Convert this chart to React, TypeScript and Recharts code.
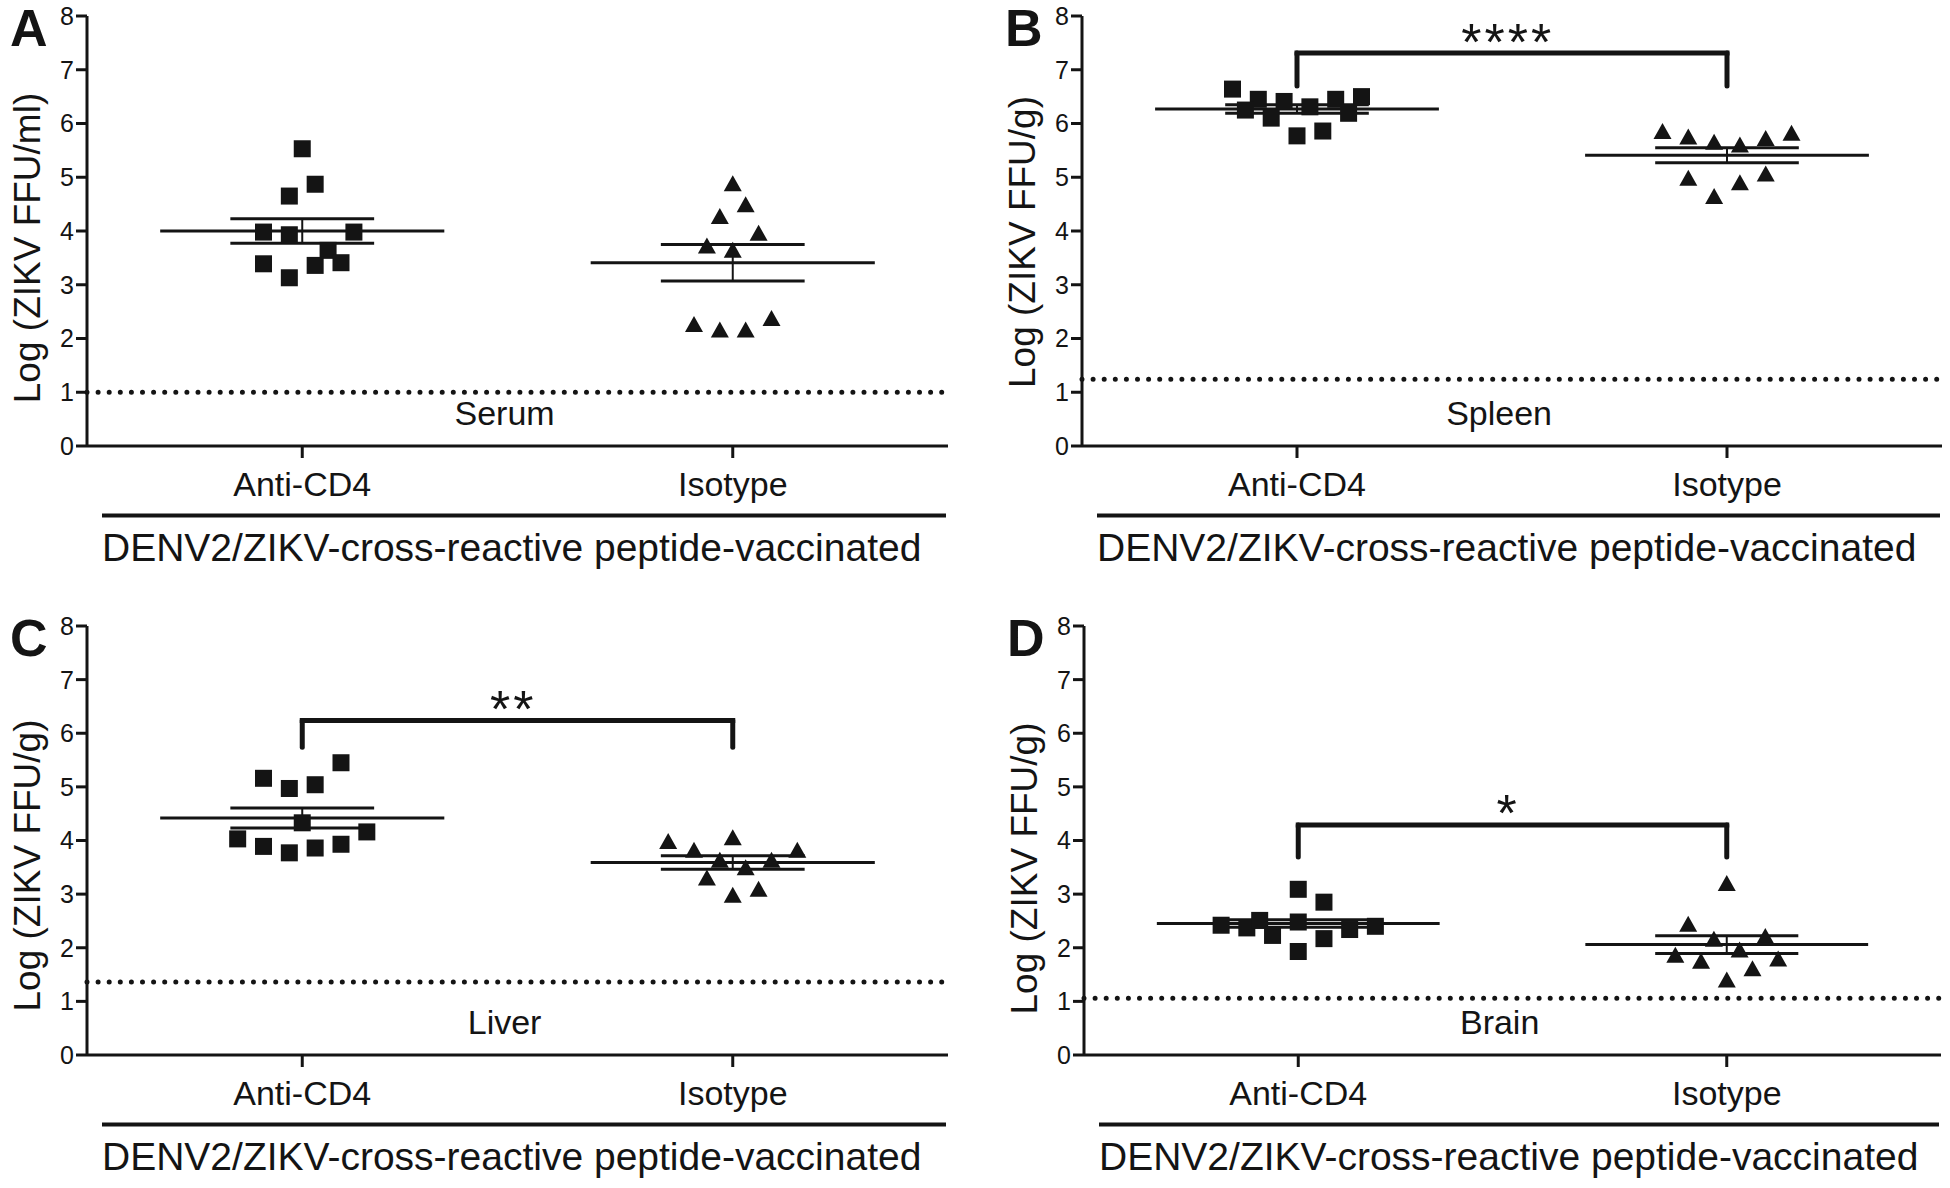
import React from 'react';
import { ScatterChart, Scatter, XAxis, YAxis, ReferenceLine, ReferenceDot, Label } from 'recharts';

const FONT = '"Liberation Sans", Arial, Helvetica, sans-serif';
const INK = '#141414';

const groups = ['Anti-CD4', 'Isotype'];
const groupPos = [1, 2];
const yTicks = [0, 1, 2, 3, 4, 5, 6, 7, 8];
const caption = 'DENV2/ZIKV-cross-reactive peptide-vaccinated';

// A - serum
const serumAnti = [5.53, 4.87, 4.65, 3.98, 3.93, 3.98, 3.64, 3.39, 3.36, 3.41, 3.13];
const serumAntiJitter = [0, 0.03, -0.03, -0.09, -0.03, 0.12, 0.06, -0.09, 0.03, 0.09, -0.03];
const serumIso = [4.88, 4.49, 4.27, 3.96, 3.72, 3.64, 2.26, 2.16, 2.16, 2.37];
const serumIsoJitter = [0, 0.03, -0.03, 0.06, -0.06, 0, -0.09, -0.03, 0.03, 0.09];
const serumMean = [4.0, 3.41];
const serumSem = [0.23, 0.34];

// B - spleen
const spleenAnti = [6.64, 6.45, 6.25, 6.1, 6.41, 6.31, 5.77, 5.86, 6.45, 6.19, 6.5];
const spleenAntiJitter = [-0.15, -0.09, -0.12, -0.06, -0.03, 0.03, 0, 0.06, 0.09, 0.12, 0.15];
const spleenIso = [5.85, 5.75, 5.65, 5.6, 5.72, 5.82, 4.98, 4.9, 5.06, 4.64];
const spleenIsoJitter = [-0.15, -0.09, -0.03, 0.03, 0.09, 0.15, -0.09, 0.03, 0.09, -0.03];
const spleenMean = [6.27, 5.41];
const spleenSem = [0.08, 0.14];

// C - liver
const liverAnti = [5.45, 5.16, 4.97, 5.04, 4.33, 4.16, 4.03, 3.89, 3.77, 3.86, 3.93];
const liverAntiJitter = [0.09, -0.09, -0.03, 0.03, 0, 0.15, -0.15, -0.09, -0.03, 0.03, 0.09];
const liverIso = [3.98, 4.05, 3.82, 3.82, 3.63, 3.63, 3.49, 3.3, 3.09, 2.98];
const liverIsoJitter = [-0.15, 0, -0.09, 0.15, -0.03, 0.09, 0.03, -0.06, 0.06, 0];
const liverMean = [4.42, 3.59];
const liverSem = [0.185, 0.125];

// D - brain
const brainAnti = [3.09, 2.85, 2.42, 2.37, 2.51, 2.23, 2.48, 2.17, 2.34, 2.4, 1.93];
const brainAntiJitter = [0, 0.06, -0.18, -0.12, -0.09, -0.06, 0, 0.06, 0.12, 0.18, 0];
const brainIso = [3.2, 2.44, 2.21, 2.16, 1.96, 1.86, 1.75, 1.79, 1.61, 1.4];
const brainIsoJitter = [0, -0.09, 0.09, -0.03, 0.03, -0.12, -0.06, 0.12, 0.06, 0];
const brainMean = [2.45, 2.06];
const brainSem = [0.07, 0.165];

// detection limits and significance brackets [top, drop, stars y]
const lods = [1.0, 1.24, 1.36, 1.06];
const brackets = [null, [7.31, 6.7, 7.74], [6.24, 5.74, 6.68], [4.29, 3.69, 4.74]];
const stars = ['', '****', '**', '*'];

const panels = [
  {
    letter: 'A', tissue: 'Serum', yTitle: 'Log (ZIKV FFU/ml)',
    anti: serumAnti, antiJ: serumAntiJitter, iso: serumIso, isoJ: serumIsoJitter,
    mean: serumMean, sem: serumSem, lod: lods[0], bracket: brackets[0], stars: stars[0],
    left: 0, top: 0, yw: 87, mr: 27, mt: 16, mb: 88, titleShift: 17,
  },
  {
    letter: 'B', tissue: 'Spleen', yTitle: 'Log (ZIKV FFU/g)',
    anti: spleenAnti, antiJ: spleenAntiJitter, iso: spleenIso, isoJ: spleenIsoJitter,
    mean: spleenMean, sem: spleenSem, lod: lods[1], bracket: brackets[1], stars: stars[1],
    left: 975, top: 0, yw: 107, mr: 8, mt: 16, mb: 88, titleShift: 11,
  },
  {
    letter: 'C', tissue: 'Liver', yTitle: 'Log (ZIKV FFU/g)',
    anti: liverAnti, antiJ: liverAntiJitter, iso: liverIso, isoJ: liverIsoJitter,
    mean: liverMean, sem: liverSem, lod: lods[2], bracket: brackets[2], stars: stars[2],
    left: 0, top: 594, yw: 87, mr: 27, mt: 32, mb: 73, titleShift: 25,
  },
  {
    letter: 'D', tissue: 'Brain', yTitle: 'Log (ZIKV FFU/g)',
    anti: brainAnti, antiJ: brainAntiJitter, iso: brainIso, isoJ: brainIsoJitter,
    mean: brainMean, sem: brainSem, lod: lods[3], bracket: brackets[3], stars: stars[3],
    left: 975, top: 594, yw: 109, mr: 9, mt: 32, mb: 73, titleShift: 28,
  },
];

const Square = (p: any) => (
  <rect x={p.cx - 8.5} y={p.cy - 8.5} width={17} height={17} fill={INK} />
);

const Triangle = (p: any) => (
  <polygon
    points={`${p.cx},${p.cy - 8.5} ${p.cx + 9},${p.cy + 7.5} ${p.cx - 9},${p.cy + 7.5}`}
    fill={INK}
  />
);

const CategoryTick = (p: any) => (
  <text x={p.x} y={p.y + 38} textAnchor="middle" fontSize={34} fontFamily={FONT} fill={INK}>
    {groups[p.payload.value - 1]}
  </text>
);

function Panel({ cfg }: { cfg: any }) {
  const antiPts = cfg.anti.map((y: number, i: number) => ({ x: 1 + cfg.antiJ[i], y }));
  const isoPts = cfg.iso.map((y: number, i: number) => ({ x: 2 + cfg.isoJ[i], y }));
  const line = { stroke: INK, strokeWidth: 3 };

  return (
    <div style={{ position: 'absolute', left: cfg.left, top: cfg.top }}>
      <ScatterChart
        width={975}
        height={594}
        margin={{ top: cfg.mt, right: cfg.mr, bottom: cfg.mb, left: 0 }}
      >
        <XAxis
          type="number"
          dataKey="x"
          domain={[0.5, 2.5]}
          ticks={groupPos}
          interval={0}
          height={60}
          tickSize={12}
          tickMargin={0}
          axisLine={line}
          tickLine={line}
          tick={<CategoryTick />}
          allowDataOverflow
        >
          <Label
            content={(lp: any) => {
              const vb = lp.viewBox || {};
              return (
                <g>
                  <line
                    x1={vb.x + 15}
                    x2={vb.x + vb.width - 2}
                    y1={vb.y + 69.5}
                    y2={vb.y + 69.5}
                    stroke={INK}
                    strokeWidth={4}
                  />
                  <text x={vb.x + 15} y={vb.y + 115} fontSize={39} fontFamily={FONT} fill={INK}>
                    {caption}
                  </text>
                </g>
              );
            }}
          />
        </XAxis>
        <YAxis
          type="number"
          dataKey="y"
          domain={[0, 8]}
          ticks={yTicks}
          interval={0}
          width={cfg.yw}
          tickSize={11}
          tickMargin={2}
          axisLine={line}
          tickLine={line}
          tick={{ fill: INK, fontSize: 25, fontFamily: FONT }}
          allowDataOverflow
        >
          <Label
            content={(lp: any) => {
              const vb = lp.viewBox || {};
              const ax = vb.x + vb.width;
              const cy = vb.y + vb.height / 2 + cfg.titleShift;
              return (
                <g>
                  <text
                    x={ax - 77}
                    y={vb.y + 30}
                    fontSize={52}
                    fontWeight="bold"
                    fontFamily={FONT}
                    fill={INK}
                  >
                    {cfg.letter}
                  </text>
                  <text
                    x={ax - 60}
                    y={cy}
                    transform={`rotate(-90 ${ax - 60} ${cy})`}
                    textAnchor="middle"
                    dominantBaseline="central"
                    fontSize={37}
                    fontFamily={FONT}
                    fill={INK}
                  >
                    {cfg.yTitle}
                  </text>
                </g>
              );
            }}
          />
        </YAxis>

        <ReferenceLine
          y={cfg.lod}
          stroke={INK}
          strokeWidth={5}
          strokeDasharray="0 11.1"
          strokeLinecap="round"
        />
        <ReferenceDot
          x={1.47}
          y={0.4}
          r={0}
          shape={(p: any) => (
            <text x={p.cx} y={p.cy} textAnchor="middle" fontSize={34} fontFamily={FONT} fill={INK}>
              {cfg.tissue}
            </text>
          )}
        />

        {groupPos.map((gx, i) => (
          <React.Fragment key={`ms-${i}`}>
            <ReferenceLine
              segment={[{ x: gx - 0.33, y: cfg.mean[i] }, { x: gx + 0.33, y: cfg.mean[i] }]}
              stroke={INK}
              strokeWidth={3}
            />
            <ReferenceLine
              segment={[{ x: gx - 0.167, y: cfg.mean[i] + cfg.sem[i] }, { x: gx + 0.167, y: cfg.mean[i] + cfg.sem[i] }]}
              stroke={INK}
              strokeWidth={3}
            />
            <ReferenceLine
              segment={[{ x: gx - 0.167, y: cfg.mean[i] - cfg.sem[i] }, { x: gx + 0.167, y: cfg.mean[i] - cfg.sem[i] }]}
              stroke={INK}
              strokeWidth={3}
            />
            <ReferenceLine
              segment={[{ x: gx, y: cfg.mean[i] - cfg.sem[i] }, { x: gx, y: cfg.mean[i] + cfg.sem[i] }]}
              stroke={INK}
              strokeWidth={2}
            />
          </React.Fragment>
        ))}

        {cfg.bracket && (
          <>
            <ReferenceLine
              segment={[{ x: 1, y: cfg.bracket[0] }, { x: 2, y: cfg.bracket[0] }]}
              stroke={INK}
              strokeWidth={5}
              strokeLinecap="square"
            />
            {groupPos.map((gx) => (
              <ReferenceLine
                key={`br-${gx}`}
                segment={[{ x: gx, y: cfg.bracket[0] }, { x: gx, y: cfg.bracket[1] }]}
                stroke={INK}
                strokeWidth={5}
                strokeLinecap="round"
              />
            ))}
            <ReferenceDot
              x={1.49}
              y={cfg.bracket[2]}
              r={0}
              shape={(p: any) => (
                <text
                  x={p.cx}
                  y={p.cy + 0.575 * 52}
                  textAnchor="middle"
                  fontSize={52}
                  letterSpacing={3}
                  fontFamily={FONT}
                  fill={INK}
                >
                  {cfg.stars}
                </text>
              )}
            />
          </>
        )}

        <Scatter data={antiPts} shape={Square} isAnimationActive={false} />
        <Scatter data={isoPts} shape={Triangle} isAnimationActive={false} />
      </ScatterChart>
    </div>
  );
}

export default function App() {
  return (
    <div
      style={{
        position: 'absolute',
        left: 0,
        top: 0,
        width: 1950,
        height: 1188,
        background: '#fff',
        fontFamily: FONT,
      }}
    >
      {panels.map((cfg) => (
        <Panel key={cfg.letter} cfg={cfg} />
      ))}
    </div>
  );
}
